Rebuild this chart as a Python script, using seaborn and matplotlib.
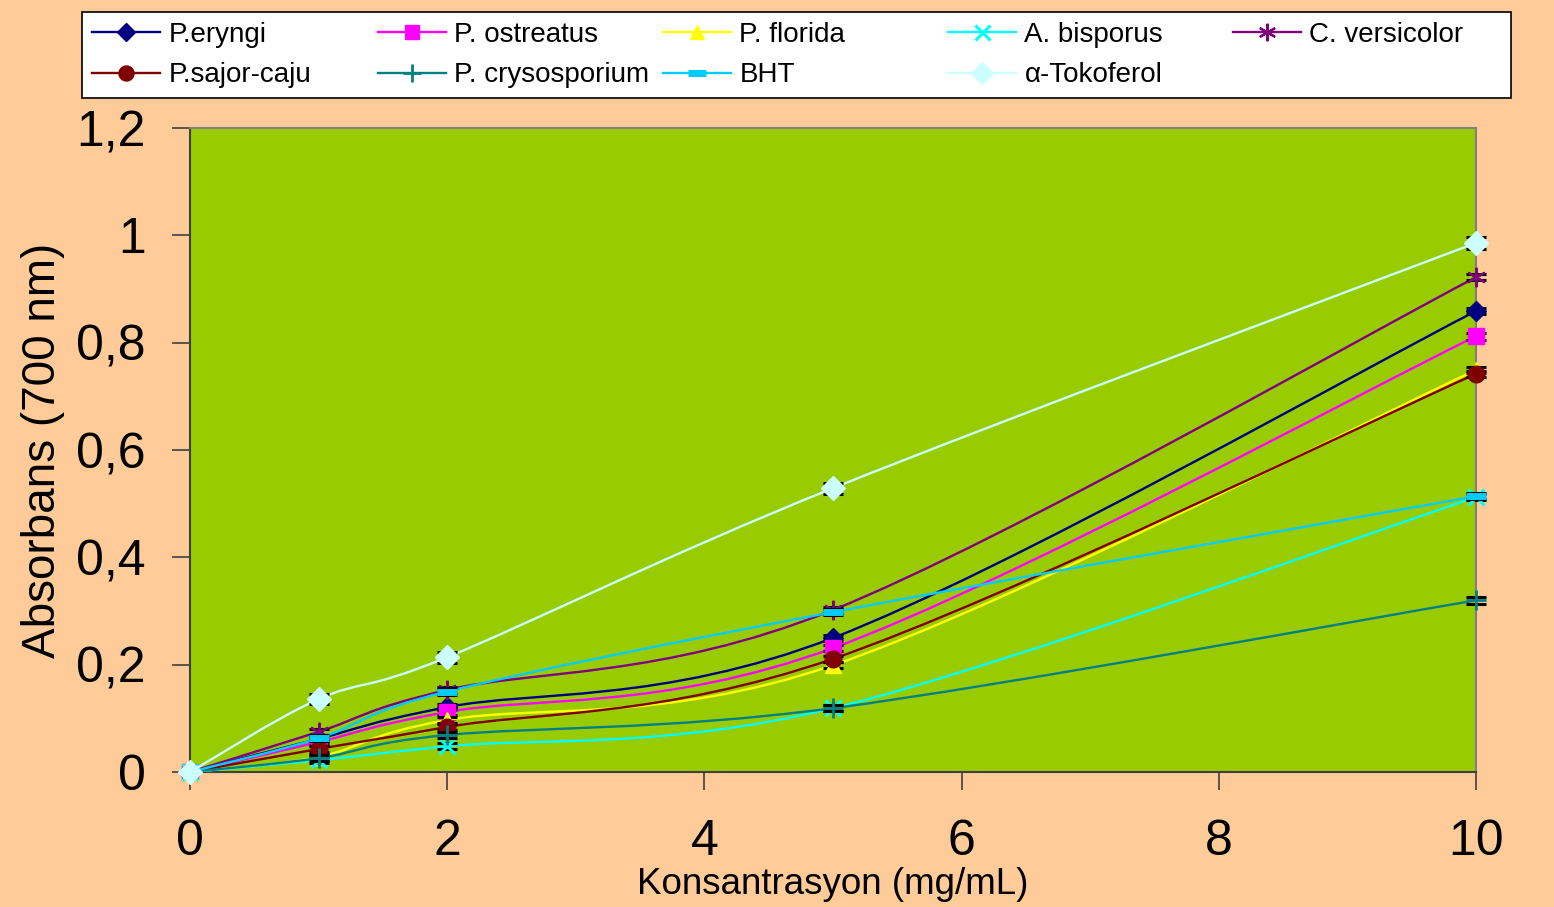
import matplotlib
matplotlib.use("Agg")
import matplotlib.pyplot as plt
import seaborn as sns
import pandas as pd
from matplotlib.ticker import FuncFormatter
from matplotlib.path import Path
from matplotlib.patches import PathPatch, Rectangle
from matplotlib.lines import Line2D

# ---- data ----
conc = [0, 1, 2, 5, 10]
p_eryngi = [0.0, 0.062, 0.121, 0.250, 0.859]
p_ostreatus = [0.0, 0.056, 0.112, 0.231, 0.812]
p_florida = [0.0, 0.028, 0.097, 0.199, 0.749]
a_bisporus = [0.0, 0.022, 0.048, 0.119, 0.512]
c_versicolor = [0.0, 0.075, 0.153, 0.302, 0.922]
p_sajor_caju = [0.0, 0.043, 0.084, 0.211, 0.742]
p_crysosporium = [0.0, 0.026, 0.069, 0.119, 0.320]
bht = [0.0, 0.063, 0.150, 0.298, 0.514]
tokoferol = [0.0, 0.136, 0.214, 0.529, 0.986]

err_small = [0.0, 0.006, 0.006, 0.006, 0.006]
err_tok = [0.0, 0.010, 0.010, 0.010, 0.011]

series_names = ["P.eryngi", "P. ostreatus", "P. florida", "A. bisporus", "C. versicolor",
                "P.sajor-caju", "P. crysosporium", "BHT", "α-Tokoferol"]
series_values = [p_eryngi, p_ostreatus, p_florida, a_bisporus, c_versicolor,
                 p_sajor_caju, p_crysosporium, bht, tokoferol]
series_errors = [err_small] * 8 + [err_tok]

y_ticks = [0, 0.2, 0.4, 0.6, 0.8, 1.0, 1.2]
x_ticks = [0, 2, 4, 6, 8, 10]

# ---- styles ----
colors = ["#000080", "#FF00FF", "#FFFF00", "#00FFFF", "#800080",
          "#800000", "#008080", "#00CCFF", "#CCFFFF"]
markers = ["D", "s", "^", "x", (6, 2, 0), "o", "+", "_", "D"]
msizes = [10, 11, 11, 12, 14, 12, 15, 15, 12]
mew = [1, 1, 1, 2.2, 1.6, 1, 2, 5, 1]
LW = 1.7

plt.rcParams["font.family"] = ["Liberation Sans", "DejaVu Sans"]

fig = plt.figure(figsize=(15.54, 9.07), dpi=100)
fig.patch.set_facecolor("#FFCC99")
ax = fig.add_axes([0.1223, 0.1488, 0.8275, 0.7100])
ax.set_facecolor("#99CC00")


def smooth_path(xs, ys):
    """Excel-style smoothed line: cubic Bezier segments through the data points."""
    n = len(xs)
    verts = [(xs[0], ys[0])]
    codes = [Path.MOVETO]
    for i in range(n - 1):
        i0 = max(i - 1, 0)
        i3 = min(i + 2, n - 1)
        c1 = (xs[i] + (xs[i + 1] - xs[i0]) / 6.0, ys[i] + (ys[i + 1] - ys[i0]) / 6.0)
        c2 = (xs[i + 1] - (xs[i3] - xs[i]) / 6.0, ys[i + 1] - (ys[i3] - ys[i]) / 6.0)
        verts += [c1, c2, (xs[i + 1], ys[i + 1])]
        codes += [Path.CURVE4] * 3
    return Path(verts, codes)


handles = []
for i, (name, vals, errs) in enumerate(zip(series_names, series_values, series_errors)):
    z = 3 + i * 0.1
    ax.add_patch(PathPatch(smooth_path(conc, vals), fill=False, edgecolor=colors[i],
                           linewidth=LW, zorder=z, clip_on=False,
                           capstyle="round", joinstyle="round"))
    ax.errorbar(conc, vals, yerr=errs, fmt="none", ecolor="black",
                elinewidth=1.2, capsize=7, capthick=2.2, zorder=z + 0.01, clip_on=False)
    df = pd.DataFrame({"x": conc, "y": vals})
    sns.lineplot(data=df, x="x", y="y", ax=ax, color=colors[i], linestyle="none",
                 marker=markers[i], markersize=msizes[i], markeredgewidth=mew[i],
                 markeredgecolor=colors[i], markerfacecolor=colors[i],
                 zorder=z + 0.02, clip_on=False, legend=False)
    handles.append(Line2D([], [], color=colors[i], linewidth=LW, marker=markers[i],
                          markersize=msizes[i] * 0.9, markeredgewidth=mew[i],
                          markeredgecolor=colors[i], markerfacecolor=colors[i]))

ax.set_xlim(0, 10)
ax.set_ylim(0, 1.2)
ax.set_xticks(x_ticks)
ax.set_yticks(y_ticks)
ax.yaxis.set_major_formatter(FuncFormatter(lambda v, p: ("%g" % v).replace(".", ",")))
ax.tick_params(axis="both", labelsize=36, colors="black", length=13, width=1.2,
               direction="out")
ax.tick_params(axis="both", color="#404040")
ax.tick_params(axis="x", pad=21)
ax.tick_params(axis="y", pad=19)
for s in ax.spines.values():
    s.set_color("#808080")
    s.set_linewidth(1.5)
ax.spines["left"].set_color("#404040")
ax.spines["bottom"].set_color("#404040")

ax.set_xlabel("Konsantrasyon (mg/mL)", fontsize=26.5)
ax.xaxis.set_label_coords(0.5, -0.1475)
ax.set_ylabel("Absorbans (700 nm)", fontsize=33, labelpad=8)

# legend box
W, H = 1554.0, 907.0
fig.patches.append(Rectangle((82 / W, 1 - 98 / H), (1511 - 82) / W, (98 - 12) / H,
                             transform=fig.transFigure, facecolor="white",
                             edgecolor="black", linewidth=1.2, zorder=0))
col_x = [92, 378, 663, 948, 1233]
cols = [[0, 5], [1, 6], [2, 7], [3, 8], [4]]
for cx, idx in zip(col_x, cols):
    lg = fig.legend([handles[k] for k in idx], [series_names[k] for k in idx],
                    loc="upper left", bbox_to_anchor=(cx / W, 1 - 22 / H),
                    frameon=False, fontsize=20, handlelength=2.45, handletextpad=0.3,
                    numpoints=1, borderpad=0, borderaxespad=0, labelspacing=0.52)
    lg.set_zorder(5)

fig.savefig("out.png", dpi=100, facecolor=fig.get_facecolor())
